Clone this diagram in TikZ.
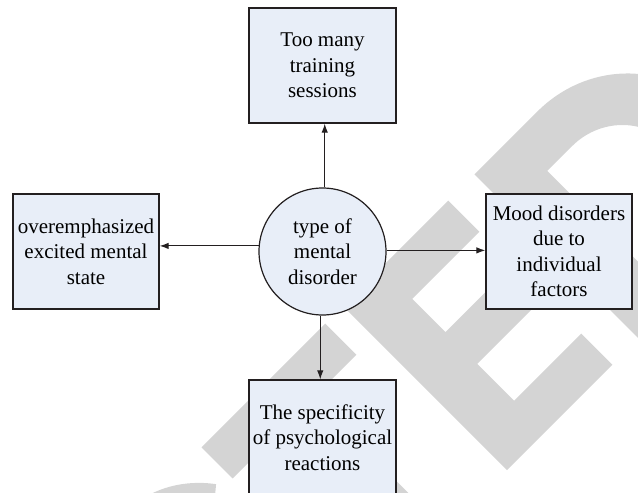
\documentclass[tikz,border=0pt]{standalone}
\usepackage{fontspec}
\setmainfont{Liberation Serif}
\usetikzlibrary{arrows.meta,calc}
\definecolor{boxfill}{RGB}{232,238,248}
\definecolor{boxline}{RGB}{35,31,32}
\definecolor{wmgray}{RGB}{212,212,212}
\tikzset{
  box/.style={draw=boxline, line width=1.3pt, fill=boxfill, rectangle,
    minimum width=146pt, minimum height=115pt, inner sep=0pt, align=center,
    font=\fontsize{21}{25.5}\selectfont},
  hub/.style={draw=boxline, line width=1.2pt, fill=boxfill, circle,
    minimum size=127pt, inner sep=0pt, align=center,
    font=\fontsize{21}{25.5}\selectfont},
  link/.style={draw=boxline, line width=1.1pt, -{Latex[length=9pt,width=6.5pt]}},
  wm/.style={fill=wmgray, draw=none}
}
\begin{document}
\begin{tikzpicture}[x=1pt,y=-1pt]
\useasboundingbox (0,0) rectangle (638,493);
% watermark fragments (letters C, T, E, D), drawn in the rotated letter frame
\begin{scope}
  \clip (0,0) rectangle (638,493);
  \begin{scope}[shift={(507,470)}, rotate=45, x=1pt, y=1pt]
    % C
    \fill[wm] (-300,116) ++(40:110 and 124)
      arc[start angle=40, end angle=320, x radius=110, y radius=124]
      -- ($(-300,116)+(320:60 and 74)$)
      arc[start angle=320, end angle=40, x radius=60, y radius=74] -- cycle;
    % T
    \fill[wm] (-200,188) rectangle (-25,232);
    \fill[wm] (-140,0) rectangle (-86,188);
    % E
    \fill[wm] (0,0) -- (149,0) -- (149,44) -- (54,44) -- (54,96) -- (140,96)
      -- (140,141) -- (54,141) -- (54,188) -- (149,188) -- (149,232)
      -- (0,232) -- cycle;
    % D
    \fill[wm, even odd rule] (186,0) -- (186,232) -- (275,232)
      arc[start angle=90, end angle=-90, x radius=124, y radius=116]
      -- cycle
      (240,49) -- (240,183) -- (275,183)
      arc[start angle=90, end angle=-90, x radius=70, y radius=67]
      -- cycle;
  \end{scope}
\end{scope}
\node[hub] (c) at (322.5,251.5) {type of\\mental\\disorder};
\node[box, minimum width=147pt] (top) at (322.5,65.5) {Too many\\training\\sessions};
\node[box] (left) at (86,251.5) {overemphasized\\excited mental\\state};
\node[box] (right) at (559,251.5) {Mood disorders\\due to\\individual\\factors};
\node[box, minimum width=147pt] (bottom) at (322.5,437.5) {The specificity\\of psychological\\reactions};
\draw[link] (c.88.6) -- (c.88.6 |- top.south);
\draw[link] (c.175.9) -- (c.175.9 -| left.east);
\draw[link] (c.1.35) -- (c.1.35 -| right.west);
\draw[link] (c.268.6) -- (c.268.6 |- bottom.north);
\end{tikzpicture}
\end{document}
